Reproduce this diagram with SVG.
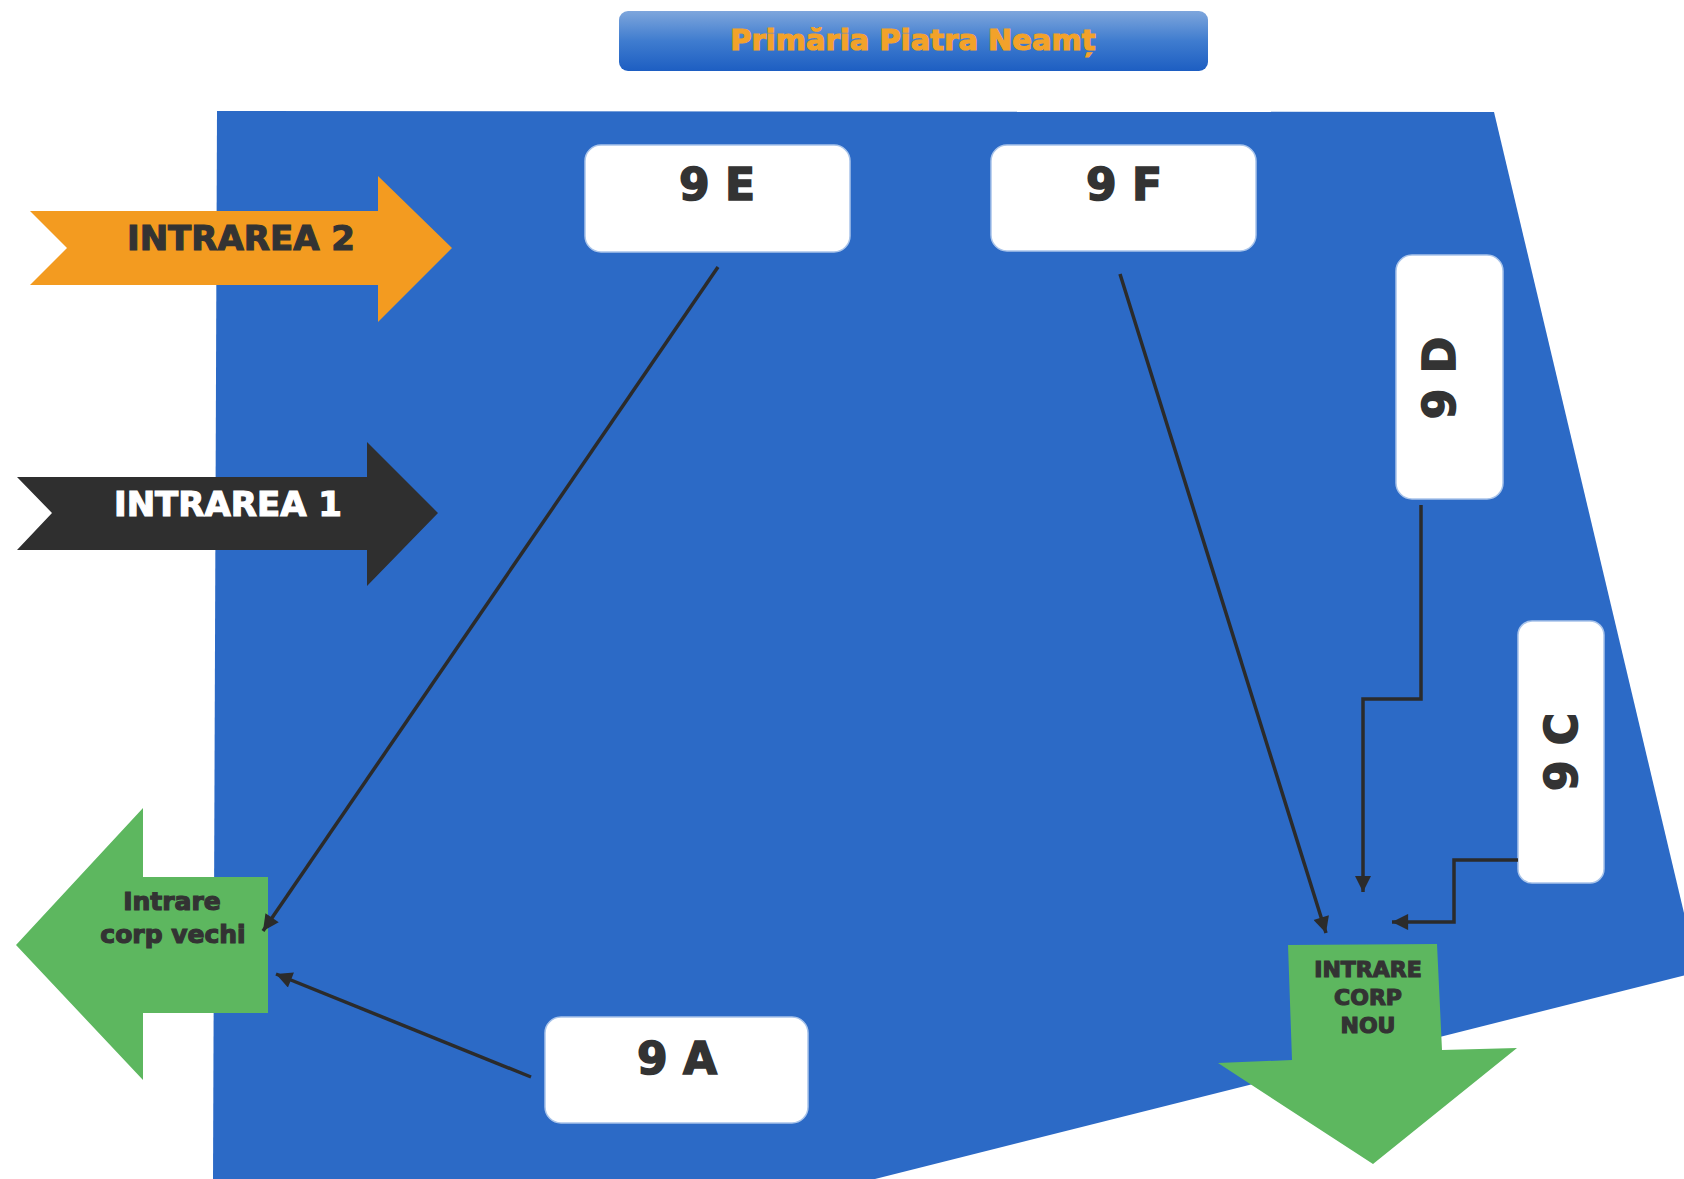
<svg xmlns="http://www.w3.org/2000/svg" width="1684" height="1179" viewBox="0 0 1684 1179">
<defs>
<linearGradient id="tg" x1="0" y1="0" x2="0" y2="1">
<stop offset="0" stop-color="#7ea6dc"/>
<stop offset="0.5" stop-color="#3f7ccf"/>
<stop offset="1" stop-color="#1d5ec2"/>
</linearGradient>
<marker id="ah" viewBox="0 0 10 10" refX="10" refY="5" markerWidth="5.5" markerHeight="4.6" orient="auto" markerUnits="strokeWidth">
<path d="M0,0 L10,5 L0,10 z" fill="#2b2b2b"/>
</marker>
<style>
.box{fill:#ffffff;stroke:#a9c4ea;stroke-width:1.5}
.lbl{font-family:"DejaVu Sans","Liberation Sans",sans-serif;font-weight:bold;font-size:44px;fill:#333333;stroke:#333333;stroke-width:1.6;text-anchor:middle}
.arr{font-family:"DejaVu Sans","Liberation Sans",sans-serif;font-weight:bold;text-anchor:middle;stroke-width:1.2}
.con{fill:none;stroke:#2b2b2b;stroke-width:3.5;marker-end:url(#ah)}
</style>
</defs>
<rect width="1684" height="1179" fill="#ffffff"/>
<polygon id="site" points="217,111 1494,112 1698,972 875,1179 213,1179" fill="#2c6ac6"/>
<g id="title">
<rect x="619" y="11" width="589" height="60" rx="9" fill="url(#tg)"/>
<text x="913" y="50" class="arr" font-size="29" fill="#f2a22a" stroke="#f2a22a">Primăria Piatra Neamț</text>
</g>
<g id="intrarea2">
<polygon points="30,211 378,211 378,176 452,248 378,322 378,285 30,285 67,248" fill="#f39b20"/>
<text x="241" y="250" class="arr" font-size="34" fill="#333333" stroke="#333333">INTRAREA 2</text>
</g>
<g id="intrarea1">
<polygon points="17,477 367,477 367,442 438,513 367,586 367,550 17,550 52,513" fill="#2f2f2f"/>
<text x="228" y="516" class="arr" font-size="34" fill="#ffffff" stroke="#ffffff">INTRAREA 1</text>
</g>
<g id="corpvechi">
<polygon points="16,945 143,808 143,877 268,877 268,1013 143,1013 143,1080" fill="#5db75f"/>
<text x="172" y="910" class="arr" font-size="25" fill="#333333" stroke="#333333">Intrare</text>
<text x="173" y="943" class="arr" font-size="25" fill="#333333" stroke="#333333">corp vechi</text>
</g>
<g id="corpnou">
<polygon points="1288,945 1437,944 1442,1050 1517,1048 1373,1164 1218,1063 1292,1060" fill="#5db75f"/>
<text x="1368" y="977" class="arr" font-size="22" fill="#333333" stroke="#333333">INTRARE</text>
<text x="1368" y="1005" class="arr" font-size="22" fill="#333333" stroke="#333333">CORP</text>
<text x="1368" y="1033" class="arr" font-size="22" fill="#333333" stroke="#333333">NOU</text>
</g>
<g id="n9E">
<rect x="585" y="145" width="265" height="107" rx="16" class="box"/>
<text x="717" y="200" class="lbl">9 E</text>
</g>
<g id="n9F">
<rect x="991" y="145" width="265" height="106" rx="16" class="box"/>
<text x="1124" y="200" class="lbl">9 F</text>
</g>
<g id="n9D">
<rect x="1396" y="255" width="107" height="244" rx="16" class="box"/>
<text transform="translate(1455,378) rotate(-90)" class="lbl">9 D</text>
</g>
<g id="n9C">
<rect x="1518" y="621" width="86" height="262" rx="14" class="box"/>
<text transform="translate(1577,752) rotate(-90)" class="lbl">9 C</text>
</g>
<g id="n9A">
<rect x="545" y="1017" width="263" height="106" rx="16" class="box"/>
<text x="677" y="1074" class="lbl">9 A</text>
</g>
<g id="connectors">
<path class="con" d="M718,267 L263,931"/>
<path class="con" d="M531,1077 L276,974"/>
<path class="con" d="M1120,274 L1326,933"/>
<path class="con" d="M1421,505 L1421,699 L1363,699 L1363,892"/>
<path class="con" d="M1518,860 L1454,860 L1454,922 L1392,922"/>
</g>
</svg>
